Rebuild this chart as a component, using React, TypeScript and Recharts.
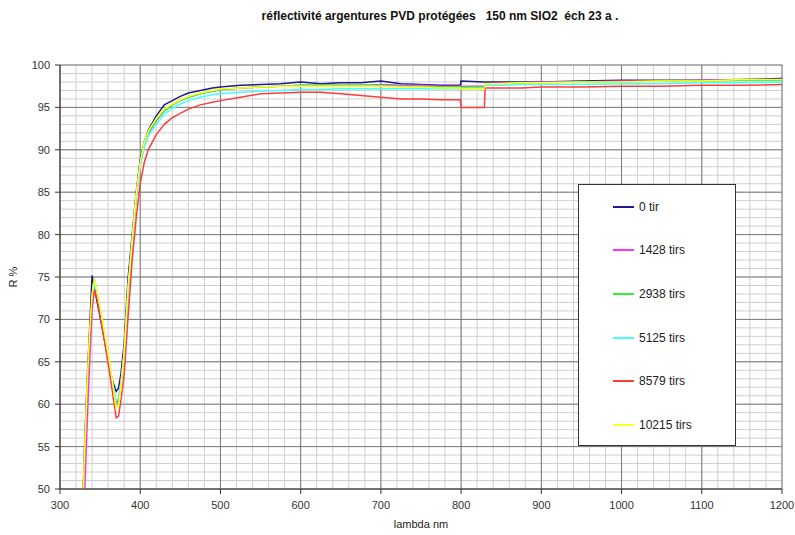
import React from 'react';
import {
  LineChart,
  Line,
  XAxis,
  YAxis,
  CartesianGrid,
  Legend,
} from 'recharts';

const wavelengths = [
  329, 331, 334, 337, 340, 343, 346, 350, 355, 360, 365, 370, 373, 376, 380, 385, 390, 395, 400, 405,
  410, 420, 430, 440, 450, 460, 475, 490, 500, 525, 550, 575, 600, 625, 650, 675, 700, 725, 750, 775,
  799, 800, 829, 830, 850, 875, 900, 950, 1000, 1050, 1100, 1150, 1200,
];

const tir0 = [
  50, 56, 63, 69, 75.2, 73.6, 72.2, 70.3, 67.8, 65.2, 62.9, 61.5, 61.9, 63.6, 67.2, 75, 80, 85, 88.8, 90.9,
  92.3, 94, 95.3, 95.8, 96.3, 96.7, 97.0, 97.3, 97.4, 97.6, 97.7, 97.8, 98.0, 97.8, 97.9, 97.9, 98.1, 97.8, 97.7, 97.6,
  97.6, 98.1, 98.0, 98.0, 98.0, 98.0, 98.0, 98.1, 98.2, 98.2, 98.2, 98.3, 98.4,
];
const tirs1428 = [
  null, 50, 58, 65, 71, 74.0, 73.0, 71.0, 68.3, 65.6, 62.5, 60.2, 60.5, 62.5, 66, 73.5, 79, 84.5, 88.2, 90.6,
  91.9, 93.4, 94.6, 95.3, 95.8, 96.2, 96.6, 96.9, 97.1, 97.3, 97.4, 97.5, 97.6, 97.6, 97.6, 97.6, 97.7, 97.6, 97.6, 97.5,
  97.5, 97.5, 97.5, 97.8, 97.9, 97.9, 98.0, 98.0, 98.1, 98.1, 98.2, 98.2, 98.2,
];
const tirs2938 = [
  50, 55, 62, 68, 72.5, 74.7, 73.2, 71.2, 68.5, 65.8, 62.8, 60.0, 60.3, 62.3, 66, 73.8, 79.3, 84.6, 88.3, 90.7,
  92.0, 93.5, 94.6, 95.3, 95.8, 96.2, 96.6, 96.9, 97.1, 97.3, 97.4, 97.5, 97.6, 97.6, 97.6, 97.6, 97.6, 97.5, 97.5, 97.4,
  97.4, 97.4, 97.4, 97.8, 97.8, 97.9, 97.9, 98.0, 98.0, 98.1, 98.1, 98.2, 98.2,
];
const tirs5125 = [
  50, 55, 62, 67.5, 72, 74.3, 73.0, 71.0, 68.3, 65.6, 62.7, 60.4, 60.7, 62.6, 66.2, 73.6, 79.0, 84.3, 88.0, 90.3,
  91.6, 93.0, 94.2, 94.9, 95.4, 95.8, 96.2, 96.5, 96.6, 96.8, 96.9, 97.0, 97.1, 97.1, 97.2, 97.2, 97.2, 97.2, 97.2, 97.2,
  97.2, 97.2, 97.2, 97.6, 97.6, 97.7, 97.7, 97.7, 97.8, 97.8, 97.9, 97.9, 98.0,
];
const tirs8579 = [
  50, 54, 61, 67, 71.5, 73.5, 72.5, 70.5, 67.7, 64.8, 61.7, 58.4, 58.6, 60.5, 63.5, 70.5, 77, 82, 86, 88.5,
  90, 91.8, 93.0, 93.8, 94.3, 94.8, 95.3, 95.6, 95.8, 96.2, 96.6, 96.7, 96.8, 96.8, 96.6, 96.4, 96.2, 96.0, 96.0, 95.9,
  95.9, 95.0, 95.0, 97.3, 97.3, 97.3, 97.4, 97.4, 97.5, 97.5, 97.6, 97.6, 97.7,
];
const tirs10215 = [
  50, 55, 62.5, 68.5, 73, 74.8, 73.4, 71.4, 68.7, 66.0, 63.0, 59.5, 59.8, 62.0, 66.0, 74.0, 79.5, 84.8, 88.5, 90.9,
  92.2, 93.7, 94.8, 95.4, 95.9, 96.3, 96.7, 97.0, 97.2, 97.3, 97.4, 97.5, 97.5, 97.5, 97.5, 97.5, 97.5, 97.4, 97.4, 97.3,
  97.3, 97.2, 97.2, 97.8, 97.8, 97.9, 97.9, 98.0, 98.0, 98.1, 98.1, 98.3, 98.3,
];

const xTicks = [300, 400, 500, 600, 700, 800, 900, 1000, 1100, 1200];
const yTicks = [50, 55, 60, 65, 70, 75, 80, 85, 90, 95, 100];
// minor grid: every 20 nm and every 1 %
const xMinor = Array.from({ length: 46 }, (_, i) => 300 + i * 20);
const yMinor = Array.from({ length: 51 }, (_, i) => 50 + i);

const series = [
  { key: 'tir0', name: '0 tir', color: '#1c1c8f', values: tir0 },
  { key: 'tirs1428', name: '1428 tirs', color: '#ff33ff', values: tirs1428 },
  { key: 'tirs2938', name: '2938 tirs', color: '#33ee33', values: tirs2938 },
  { key: 'tirs5125', name: '5125 tirs', color: '#44ffff', values: tirs5125 },
  { key: 'tirs8579', name: '8579 tirs', color: '#ff3b3b', values: tirs8579 },
  { key: 'tirs10215', name: '10215 tirs', color: '#ffff22', values: tirs10215 },
];

const data = wavelengths.map((w, i) => {
  const row: Record<string, number | null> = { lambda: w };
  series.forEach((s) => {
    row[s.key] = s.values[i];
  });
  return row;
});

const FONT = '"Liberation Sans", Arial, sans-serif';

// keeps the series order (recharts sorts the payload by name)
const LegendBox = () => (
  <div
    style={{
      width: 158,
      height: 262,
      border: '1px solid #333',
      background: '#fff',
      boxSizing: 'border-box',
    }}
  >
    {series.map((s) => (
      <div
        key={s.key}
        style={{ display: 'flex', alignItems: 'center', height: 43.6, marginLeft: 34 }}
      >
        <span style={{ display: 'inline-block', width: 21, height: 2, background: s.color, marginRight: 5 }} />
        <span style={{ fontFamily: FONT, fontSize: 12, color: '#222' }}>{s.name}</span>
      </div>
    ))}
  </div>
);

export default function App() {
  return (
    <div style={{ position: 'absolute', left: 0, top: 0, width: 795, height: 535, background: '#fff' }}>
      <div
        style={{
          position: 'absolute',
          top: 9,
          left: 0,
          width: 880,
          textAlign: 'center',
          fontFamily: FONT,
          fontSize: 12,
          fontWeight: 'bold',
          color: '#111',
          whiteSpace: 'pre',
        }}
      >
        {'réflectivité argentures PVD protégées   150 nm SIO2  éch 23 a .'}
      </div>
      <LineChart
        width={795}
        height={535}
        data={data}
        margin={{ top: 65, right: 13, left: 0, bottom: 0 }}
        style={{ fontFamily: FONT }}
      >
        <CartesianGrid
          stroke="#cfcfcf"
          horizontalValues={yMinor}
          verticalValues={xMinor}
        />
        <CartesianGrid
          stroke="#7a7a7a"
          horizontalValues={yTicks}
          verticalValues={xTicks}
        />
        <XAxis
          dataKey="lambda"
          type="number"
          domain={[300, 1200]}
          ticks={xTicks}
          interval={0}
          height={46}
          tick={{ fill: '#333', fontSize: 11 }}
          tickSize={5}
          tickMargin={7}
          axisLine={{ stroke: '#333' }}
          tickLine={{ stroke: '#333' }}
          label={{ value: 'lambda nm', position: 'insideBottom', offset: 7, fill: '#222', fontSize: 11 }}
        />
        <YAxis
          type="number"
          domain={[50, 100]}
          ticks={yTicks}
          interval={0}
          width={60}
          tick={{ fill: '#333', fontSize: 11 }}
          tickSize={5}
          tickMargin={5}
          axisLine={{ stroke: '#333' }}
          tickLine={{ stroke: '#333' }}
          allowDataOverflow
          label={{
            value: 'R %',
            angle: -90,
            position: 'insideLeft',
            offset: 13,
            fill: '#222',
            fontSize: 11,
            style: { textAnchor: 'middle' },
          }}
        />
        <Legend
          layout="vertical"
          align="center"
          verticalAlign="middle"
          content={<LegendBox />}
          wrapperStyle={{ left: 578, top: 184, width: 158, height: 262 }}
        />
        {series.map((s) => (
          <Line
            key={s.key}
            type="linear"
            dataKey={s.key}
            name={s.name}
            stroke={s.color}
            strokeWidth={1.5}
            dot={false}
            isAnimationActive={false}
          />
        ))}
      </LineChart>
    </div>
  );
}
